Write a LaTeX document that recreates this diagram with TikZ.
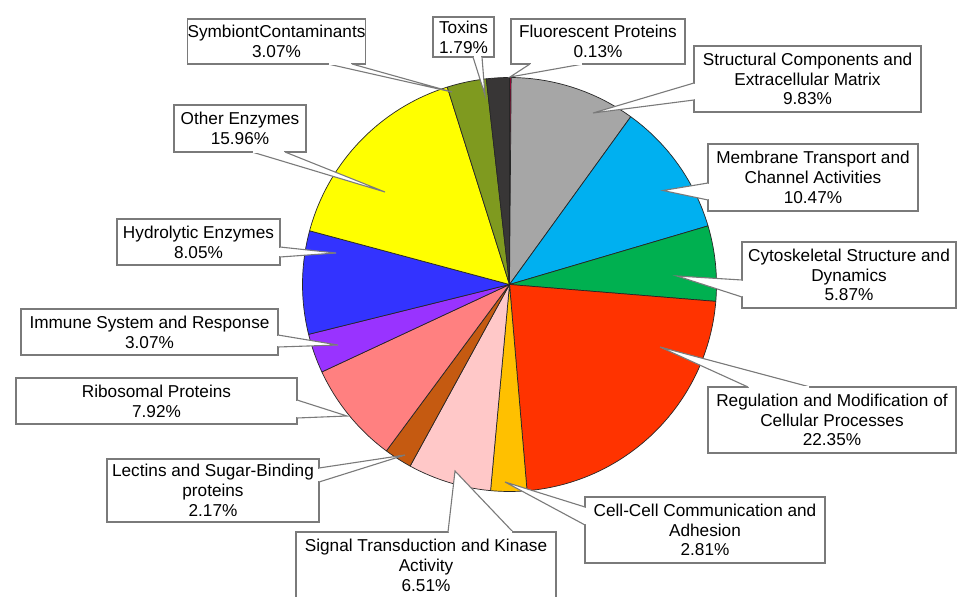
\documentclass[tikz,border=0pt]{standalone}
\usepackage{fontspec}
\setmainfont{Liberation Sans}
\definecolor{cFluo}{HTML}{B0003A}
\definecolor{cStruct}{HTML}{A6A6A6}
\definecolor{cMemb}{HTML}{00B0F0}
\definecolor{cCyto}{HTML}{00B050}
\definecolor{cRegu}{HTML}{FF3300}
\definecolor{cCell}{HTML}{FFC000}
\definecolor{cSign}{HTML}{FFC8C8}
\definecolor{cLect}{HTML}{C55A11}
\definecolor{cRibo}{HTML}{FF8080}
\definecolor{cImmu}{HTML}{9933FF}
\definecolor{cHydr}{HTML}{3333FF}
\definecolor{cOthe}{HTML}{FFFF00}
\definecolor{cSymb}{HTML}{7F9A1F}
\definecolor{cToxi}{HTML}{383636}
\definecolor{cBord}{HTML}{7A7A7A}
\newcommand\pieslice[3]{%
  \filldraw[fill=#3, draw=black!85, line width=0.7pt, line join=round]
    (0,0) -- (#1:207pt) arc[start angle=#1, end angle=#2, radius=207pt] -- cycle;}
\begin{document}
\begin{tikzpicture}[x=1pt, y=-1pt,
  cbox/.style={draw=cBord, fill=white, line width=1.1pt, inner sep=0pt,
    align=center, font=\fontsize{17.2}{19.8}\selectfont},
  wedge/.style={draw=cBord, fill=white, line width=1.1pt, line join=miter},
  erase/.style={draw=white, line width=1.6pt, shorten >=1pt, shorten <=1pt}]
\useasboundingbox (0,0) rectangle (959,597);
\fill[white] (0,0) rectangle (959,597);
% pie
\begin{scope}[shift={(509.5,284.5)}]
\pieslice{90}{89.532}{cFluo}
\pieslice{89.532}{54.144}{cStruct}
\pieslice{54.144}{16.452}{cMemb}
\pieslice{16.452}{-4.68}{cCyto}
\pieslice{-4.68}{-85.14}{cRegu}
\pieslice{-85.14}{-95.256}{cCell}
\pieslice{-95.256}{-118.692}{cSign}
\pieslice{-118.692}{-126.504}{cLect}
\pieslice{-126.504}{-155.016}{cRibo}
\pieslice{-155.016}{-166.068}{cImmu}
\pieslice{-166.068}{-195.048}{cHydr}
\pieslice{-195.048}{-252.504}{cOthe}
\pieslice{-252.504}{-263.556}{cSymb}
\pieslice{-263.556}{-270}{cToxi}
\end{scope}
% callouts
\node[cbox, minimum width=165pt, minimum height=45pt] (symb) at (276.5,41.5) {SymbiontContaminants\\3.07\%};
\coordinate (symbA) at (328,64); \coordinate (symbB) at (352,64); \coordinate (symbT) at (452,92);
\filldraw[wedge] (symbA) -- (symbT) -- (symbB); \draw[erase] (symbA) -- (symbB);

\node[cbox, minimum width=61pt, minimum height=40pt] (toxi) at (463.5,37) {Toxins\\1.79\%};
\coordinate (toxiA) at (473,57); \coordinate (toxiB) at (482,57); \coordinate (toxiT) at (485,95);
\filldraw[wedge] (toxiA) -- (toxiT) -- (toxiB); \draw[erase] (toxiA) -- (toxiB);

\node[cbox, minimum width=174pt, minimum height=45pt] (fluo) at (598,41.5) {Fluorescent Proteins\\0.13\%};
\coordinate (fluoA) at (530,64); \coordinate (fluoB) at (583,64); \coordinate (fluoT) at (510,77);
\filldraw[wedge] (fluoA) -- (fluoT) -- (fluoB); \draw[erase] (fluoA) -- (fluoB);

\node[cbox, minimum width=227pt, minimum height=66pt] (stru) at (807.5,79) {Structural Components and\\Extracellular Matrix\\9.83\%};
\coordinate (struA) at (694,83); \coordinate (struB) at (694,100); \coordinate (struT) at (593,113);
\filldraw[wedge] (struA) -- (struT) -- (struB); \draw[erase] (struA) -- (struB);

\node[cbox, minimum width=210pt, minimum height=67pt] (memb) at (813,177.5) {Membrane Transport and\\Channel Activities\\10.47\%};
\coordinate (membA) at (708,183); \coordinate (membB) at (708,200); \coordinate (membT) at (663,190.5);
\filldraw[wedge] (membA) -- (membT) -- (membB); \draw[erase] (membA) -- (membB);

\node[cbox, minimum width=214pt, minimum height=66pt] (cyto) at (849,275) {Cytoskeletal Structure and\\Dynamics\\5.87\%};
\coordinate (cytoA) at (742,280); \coordinate (cytoB) at (742,297); \coordinate (cytoT) at (677,276);
\filldraw[wedge] (cytoA) -- (cytoT) -- (cytoB); \draw[erase] (cytoA) -- (cytoB);

\node[cbox, minimum width=248pt, minimum height=66pt] (regu) at (832,420) {Regulation and Modification of\\Cellular Processes\\22.35\%};
\coordinate (reguA) at (748,387); \coordinate (reguB) at (810,387); \coordinate (reguT) at (660,347);
\filldraw[wedge] (reguA) -- (reguT) -- (reguB); \draw[erase] (reguA) -- (reguB);

\node[cbox, minimum width=240pt, minimum height=66pt] (cell) at (705,530) {Cell-Cell Communication and\\Adhesion\\2.81\%};
\coordinate (cellA) at (585,507); \coordinate (cellB) at (585,525); \coordinate (cellT) at (505,482);
\filldraw[wedge] (cellA) -- (cellT) -- (cellB); \draw[erase] (cellA) -- (cellB);

\node[cbox, minimum width=260pt, minimum height=67pt] (sign) at (426,565.5) {Signal Transduction and Kinase\\Activity\\6.51\%};
\coordinate (signA) at (448,532); \coordinate (signB) at (513,532); \coordinate (signT) at (455,471);
\filldraw[wedge] (signA) -- (signT) -- (signB); \draw[erase] (signA) -- (signB);

\node[cbox, minimum width=212pt, minimum height=63pt] (lect) at (213,490.5) {Lectins and Sugar-Binding\\proteins\\2.17\%};
\coordinate (lectA) at (319,468); \coordinate (lectB) at (319,482); \coordinate (lectT) at (405,455);
\filldraw[wedge] (lectA) -- (lectT) -- (lectB); \draw[erase] (lectA) -- (lectB);

\node[cbox, minimum width=281pt, minimum height=46pt] (ribo) at (156.5,401) {Ribosomal Proteins\\7.92\%};
\coordinate (riboA) at (297,400); \coordinate (riboB) at (297,418); \coordinate (riboT) at (347,416);
\filldraw[wedge] (riboA) -- (riboT) -- (riboB); \draw[erase] (riboA) -- (riboB);

\node[cbox, minimum width=257pt, minimum height=46pt] (immu) at (149.5,332) {Immune System and Response\\3.07\%};
\coordinate (immuA) at (278,335); \coordinate (immuB) at (278,347); \coordinate (immuT) at (338,345);
\filldraw[wedge] (immuA) -- (immuT) -- (immuB); \draw[erase] (immuA) -- (immuB);

\node[cbox, minimum width=163pt, minimum height=46pt] (hydr) at (198.5,242) {Hydrolytic Enzymes\\8.05\%};
\coordinate (hydrA) at (280,247); \coordinate (hydrB) at (280,257); \coordinate (hydrT) at (336,253);
\filldraw[wedge] (hydrA) -- (hydrT) -- (hydrB); \draw[erase] (hydrA) -- (hydrB);

\node[cbox, minimum width=132pt, minimum height=47pt] (othe) at (240,128.5) {Other Enzymes\\15.96\%};
\coordinate (otheA) at (252,152); \coordinate (otheB) at (285,152); \coordinate (otheT) at (385,192);
\filldraw[wedge] (otheA) -- (otheT) -- (otheB); \draw[erase] (otheA) -- (otheB);
\end{tikzpicture}
\end{document}
